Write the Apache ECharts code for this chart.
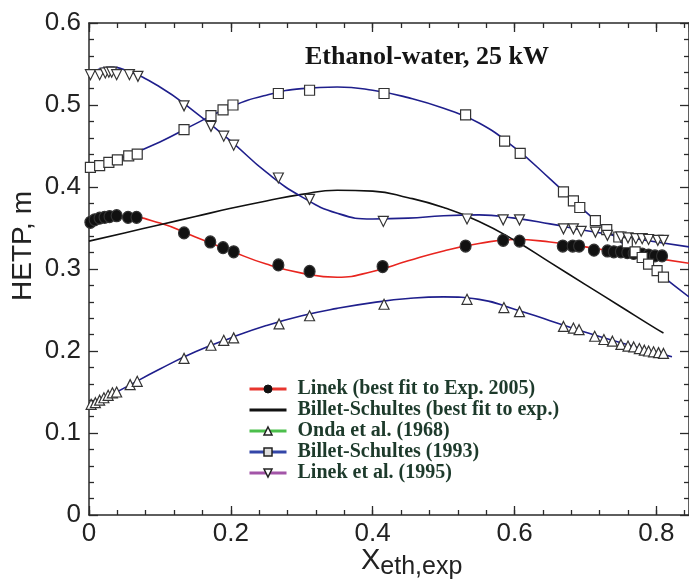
<!DOCTYPE html>
<html>
<head>
<meta charset="utf-8">
<title>HETP ethanol-water</title>
<script src="https://cdn.jsdelivr.net/npm/echarts@6.0.0/dist/echarts.min.js"></script>
<style>
  html, body { margin: 0; padding: 0; background: #fff; }
  #main { width: 689px; height: 581px; }
</style>
</head>
<body>
<div id="main"></div>
<script>
// experimental points
var xLinek = [0.002, 0.008, 0.015, 0.022, 0.029, 0.039, 0.055, 0.067, 0.134, 0.171, 0.189, 0.204, 0.267, 0.311,
    0.414, 0.531, 0.584, 0.607, 0.668, 0.682, 0.691, 0.712, 0.731, 0.740, 0.750, 0.759, 0.768, 0.780, 0.789, 0.798, 0.808];
var yLinek = [0.357, 0.360, 0.362, 0.363, 0.364, 0.365, 0.363, 0.363, 0.344, 0.333, 0.326, 0.321, 0.305, 0.297,
    0.303, 0.328, 0.335, 0.334, 0.328, 0.328, 0.328, 0.323, 0.322, 0.321, 0.321, 0.320, 0.319, 0.318, 0.317, 0.316, 0.316];

var xOnda = [0.003, 0.009, 0.015, 0.021, 0.027, 0.033, 0.039, 0.058, 0.068, 0.134, 0.172, 0.190, 0.204, 0.268, 0.311,
    0.416, 0.533, 0.585, 0.607, 0.669, 0.683, 0.691, 0.713, 0.726, 0.738, 0.750, 0.760, 0.768, 0.776, 0.783, 0.789, 0.796, 0.803, 0.810];
var yOnda = [0.135, 0.137, 0.140, 0.143, 0.146, 0.149, 0.150, 0.159, 0.163, 0.191, 0.207, 0.213, 0.216, 0.233, 0.243,
    0.257, 0.263, 0.253, 0.248, 0.230, 0.228, 0.226, 0.218, 0.214, 0.212, 0.208, 0.206, 0.205, 0.203, 0.201, 0.200, 0.199, 0.198, 0.197];

var xBS93 = [0.002, 0.015, 0.028, 0.040, 0.056, 0.068, 0.134, 0.172, 0.189, 0.203, 0.267, 0.311,
    0.416, 0.531, 0.586, 0.608, 0.669, 0.683, 0.692, 0.714, 0.730, 0.747, 0.759, 0.770, 0.780, 0.789, 0.801, 0.810];
var yBS93 = [0.424, 0.426, 0.430, 0.433, 0.438, 0.440, 0.470, 0.487, 0.494, 0.500, 0.514, 0.518,
    0.514, 0.488, 0.456, 0.441, 0.394, 0.383, 0.375, 0.359, 0.348, 0.339, 0.332, 0.321, 0.314, 0.306, 0.298, 0.290];

var xL95 = [0.002, 0.015, 0.023, 0.028, 0.032, 0.039, 0.057, 0.069, 0.134, 0.172, 0.190, 0.204, 0.267, 0.311,
    0.415, 0.533, 0.584, 0.607, 0.669, 0.683, 0.694, 0.714, 0.731, 0.750, 0.760, 0.771, 0.780, 0.789, 0.802, 0.810];
var yL95 = [0.537, 0.537, 0.539, 0.540, 0.540, 0.537, 0.537, 0.535, 0.499, 0.474, 0.462, 0.451, 0.411, 0.385,
    0.358, 0.361, 0.360, 0.360, 0.349, 0.349, 0.346, 0.345, 0.341, 0.339, 0.338, 0.337, 0.337, 0.336, 0.335, 0.335];

// model curves
var xFitLinek = [0, 0.05, 0.1, 0.15, 0.2, 0.25, 0.3, 0.35, 0.4, 0.45, 0.5, 0.55, 0.6, 0.65, 0.7, 0.75, 0.8, 0.846];
var yFitLinek = [0.357, 0.364, 0.356, 0.339, 0.322, 0.306, 0.295, 0.290, 0.297, 0.310, 0.322, 0.331, 0.336, 0.333, 0.327, 0.320, 0.313, 0.307];

var xFitBSexp = [0, 0.05, 0.1, 0.15, 0.2, 0.25, 0.3, 0.35, 0.4, 0.45, 0.5, 0.55, 0.6, 0.65, 0.7, 0.75, 0.8, 0.81];
var yFitBSexp = [0.334, 0.344, 0.354, 0.364, 0.374, 0.383, 0.391, 0.396, 0.395, 0.387, 0.375, 0.358, 0.335, 0.308, 0.281, 0.254, 0.227, 0.222];

var xFitOnda = [0, 0.05, 0.1, 0.15, 0.2, 0.25, 0.3, 0.35, 0.4, 0.45, 0.5, 0.55, 0.6, 0.65, 0.7, 0.75, 0.8, 0.822];
var yFitOnda = [0.132, 0.155, 0.178, 0.199, 0.216, 0.231, 0.243, 0.252, 0.259, 0.264, 0.266, 0.263, 0.251, 0.237, 0.223, 0.210, 0.198, 0.193];

var xFitBS93 = [0, 0.05, 0.1, 0.15, 0.2, 0.25, 0.3, 0.35, 0.4, 0.45, 0.5, 0.55, 0.6, 0.65, 0.7, 0.75, 0.8, 0.846];
var yFitBS93 = [0.422, 0.437, 0.455, 0.477, 0.498, 0.512, 0.520, 0.522, 0.518, 0.509, 0.496, 0.478, 0.448, 0.410, 0.370, 0.333, 0.297, 0.266];

var xFitL95 = [0, 0.015, 0.03, 0.05, 0.1, 0.15, 0.2, 0.25, 0.3, 0.35, 0.4, 0.45, 0.5, 0.55, 0.6, 0.65, 0.7, 0.75, 0.8, 0.846];
var yFitL95 = [0.538, 0.544, 0.546, 0.543, 0.522, 0.491, 0.456, 0.418, 0.388, 0.368, 0.361, 0.362, 0.365, 0.366, 0.362, 0.355, 0.347, 0.340, 0.333, 0.327];

var legendNames = ['Linek (best fit to Exp. 2005)', 'Billet-Schultes (best fit to exp.)', 'Onda et al. (1968)',
    'Billet-Schultes (1993)', 'Linek et al. (1995)'];

var DOWN_TRI = 'path://M0,0L10,0L5,9Z';
var NAVY = '#1f1f8c';
var AXIS_COLOR = '#2a2a2a';

function pairs(xs, ys) {
    var out = [];
    for (var i = 0; i < xs.length; i++) out.push([xs[i], ys[i]]);
    return out;
}

function fitLine(name, xs, ys, color, symbol) {
    return {
        name: name,
        type: 'line',
        data: pairs(xs, ys),
        smooth: 0.5,
        symbol: symbol || 'none',
        showSymbol: false,
        lineStyle: { color: color, width: 1.6 },
        itemStyle: { color: color },
        silent: true,
        z: 2
    };
}

function points(xs, ys, symbol, size, fill) {
    return {
        type: 'scatter',
        data: pairs(xs, ys),
        symbol: symbol,
        symbolSize: size,
        itemStyle: { color: fill, borderColor: '#333', borderWidth: 1.2, opacity: 1 },
        silent: true,
        z: 5
    };
}

var XMAX = 0.846;

function xAx(pos, interval, tickLen, withLabel, withLine) {
    return {
        type: 'value', position: pos, min: 0, max: XMAX, interval: interval,
        axisLine: { show: withLine, onZero: false, lineStyle: { color: AXIS_COLOR, width: 1.5 } },
        axisTick: { show: true, inside: true, length: tickLen, lineStyle: { color: AXIS_COLOR, width: 1.3 } },
        axisLabel: {
            show: withLabel, margin: 6, fontSize: 26, fontFamily: 'Liberation Sans', color: '#222',
            showMaxLabel: false
        },
        splitLine: { show: false }
    };
}

function yAx(pos, withLabel) {
    return {
        type: 'value', position: pos, min: 0, max: 0.6, interval: 0.1,
        axisLine: { show: true, onZero: false, lineStyle: { color: AXIS_COLOR, width: 1.5 } },
        axisTick: { show: true, inside: true, length: 9, lineStyle: { color: AXIS_COLOR, width: 1.3 } },
        minorTick: { show: true, splitNumber: 5, length: 5, lineStyle: { color: AXIS_COLOR, width: 1.3 } },
        axisLabel: { show: withLabel, margin: 8, fontSize: 26, fontFamily: 'Liberation Sans', color: '#222' },
        splitLine: { show: false }
    };
}

var legendText = {
    fontFamily: 'Liberation Serif', fontWeight: 'bold', fontSize: 20, color: '#1d3a2b',
    lineHeight: 19, padding: [0, 0, 0, 6]
};

var myChart = echarts.init(document.getElementById('main'), null, { renderer: 'canvas' });

var option = {
    backgroundColor: '#fff',
    animation: false,
    title: {
        text: 'Ethanol-water, 25 kW',
        left: 305, top: 44, padding: 0,
        textStyle: { fontFamily: 'Liberation Serif', fontWeight: 'bold', fontSize: 26, color: '#151515' }
    },
    legend: {
        orient: 'vertical',
        left: 248, top: 379, padding: 0,
        itemWidth: 37, itemHeight: 10, itemGap: 1,
        textStyle: legendText,
        data: [
            { name: legendNames[0], lineStyle: { color: '#e8352e', width: 3 }, itemStyle: { color: '#111', borderColor: '#111', borderWidth: 1 } },
            { name: legendNames[1], lineStyle: { color: '#111', width: 3 }, itemStyle: { color: 'rgba(0,0,0,0)', borderColor: 'rgba(0,0,0,0)', borderWidth: 0 } },
            { name: legendNames[2], lineStyle: { color: '#4cbf4c', width: 3 }, itemStyle: { color: '#fff', borderColor: '#222', borderWidth: 1.5 } },
            { name: legendNames[3], lineStyle: { color: '#3346a8', width: 3 }, itemStyle: { color: '#ddd', borderColor: '#222', borderWidth: 1.5 } },
            { name: legendNames[4], lineStyle: { color: '#a355a8', width: 3 }, itemStyle: { color: '#fff', borderColor: '#222', borderWidth: 1.5 } }
        ]
    },
    grid: { left: 89, right: -5, top: 23, bottom: 66, containLabel: false },
    xAxis: [
        xAx('bottom', 0.2, 9, true, true),
        xAx('bottom', 0.04, 5, false, false),
        xAx('top', 0.2, 9, false, true),
        xAx('top', 0.04, 5, false, false)
    ],
    yAxis: [yAx('left', true), yAx('right', false)],
    graphic: [
        {
            type: 'text', x: 23, y: 246, rotation: Math.PI / 2,
            style: {
                text: 'HETP, m', fontSize: 28, fontFamily: 'Liberation Sans', fill: '#222',
                align: 'center', verticalAlign: 'middle', textAlign: 'center', textVerticalAlign: 'middle'
            }
        },
        {
            type: 'text', x: 361, y: 546,
            style: {
                text: '{a|X}{b|eth,exp}', fill: '#222',
                rich: {
                    a: { fontSize: 29, fontFamily: 'Liberation Sans', fill: '#222', verticalAlign: 'top' },
                    b: { fontSize: 25, fontFamily: 'Liberation Sans', fill: '#222', verticalAlign: 'top', padding: [9, 0, 0, 0] }
                }
            }
        }
    ],
    series: [
        fitLine(legendNames[0], xFitLinek, yFitLinek, '#e8251f', 'circle'),
        fitLine(legendNames[1], xFitBSexp, yFitBSexp, '#111', 'none'),
        fitLine(legendNames[2], xFitOnda, yFitOnda, NAVY, 'triangle'),
        fitLine(legendNames[3], xFitBS93, yFitBS93, NAVY, 'rect'),
        fitLine(legendNames[4], xFitL95, yFitL95, NAVY, DOWN_TRI),
        points(xLinek, yLinek, 'circle', [11, 12], '#111'),
        points(xOnda, yOnda, 'triangle', [10, 10], '#fff'),
        points(xBS93, yBS93, 'rect', [10, 10], '#fff'),
        points(xL95, yL95, DOWN_TRI, [10, 10], '#fff')
    ]
};

myChart.setOption(option);
</script>
</body>
</html>
